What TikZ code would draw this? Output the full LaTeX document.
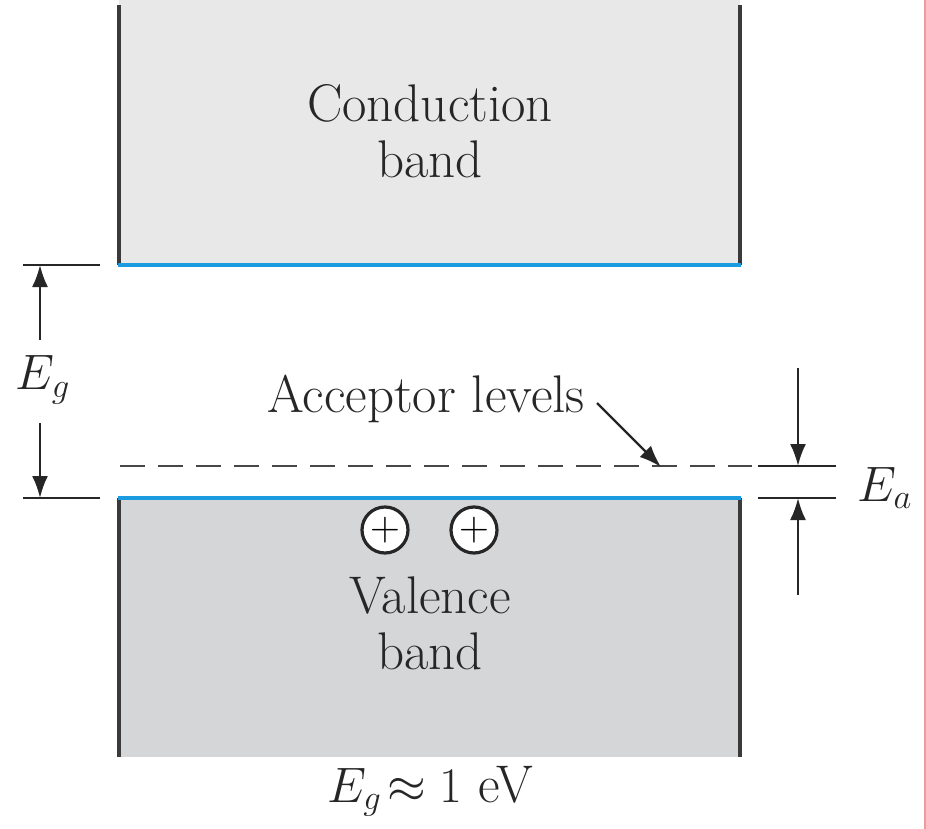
\documentclass[tikz,border=0pt]{standalone}
\usetikzlibrary{arrows.meta}
\definecolor{cbfill}{HTML}{E8E8E8}
\definecolor{vbfill}{HTML}{D5D6D8}
\definecolor{edge}{HTML}{3A3A3A}
\definecolor{levelblue}{HTML}{1B9BE0}
\definecolor{ink}{HTML}{262626}
\definecolor{redrule}{HTML}{F09A9A}
\begin{document}
\begin{tikzpicture}[x=0.5pt,y=-0.5pt,
  lbl/.style={font=\fontsize{26.5}{28}\selectfont, text=ink, align=center, inner sep=0pt},
  tick/.style={draw=ink, line width=1.2pt},
  dimarrow/.style={draw=ink, line width=1.2pt, -{Latex[length=11pt,width=8pt]}},
  side/.style={draw=edge, line width=2pt},
  level/.style={draw=levelblue, line width=2pt},
  hole/.style={circle, draw=ink, fill=white, line width=1.6pt, minimum size=23pt, inner sep=0pt, font=\fontsize{21}{21}\selectfont},
]
\useasboundingbox (0,0) rectangle (926,829);
\fill[white] (0,0) rectangle (926,829);
% conduction band
\fill[cbfill] (119,0) rectangle (740,265);
\draw[side] (119,5) -- (119,265);
\draw[side] (740,5) -- (740,265);
\draw[level] (118,265) -- (741,265);
% valence band
\fill[vbfill] (119,498) rectangle (740,757);
\draw[side] (119,498) -- (119,757);
\draw[side] (740,498) -- (740,757);
\draw[level] (118,498) -- (741,498);
% acceptor level
\draw[draw=ink!85, line width=1.3pt, dash pattern=on 12.5pt off 6.5pt] (120,466) -- (752,466);
% labels
\node[lbl] (cb) at (430,131) {Conduction\\band};
\node[lbl] (vb) at (430,623) {Valence\\band};
\node[lbl, anchor=base] (egv) at (430,802) {$E_g\!\approx 1$ eV};
\node[lbl] (acc) at (426,399) {Acceptor levels};
% holes
\node[hole] (h1) at (385,530) {$+$};
\node[hole] (h2) at (474,530) {$+$};
% acceptor pointer
\coordinate (accs) at (597,403);
\coordinate (acct) at (661,467);
\draw[draw=ink, line width=1.2pt, -{Latex[length=11pt,width=8pt]}] (accs) -- (acct);
% Eg dimension
\coordinate (egt1) at (23,265); \coordinate (egt2) at (100,265);
\coordinate (egb1) at (23,498); \coordinate (egb2) at (100,498);
\draw[tick] (egt1) -- (egt2);
\draw[tick] (egb1) -- (egb2);
\coordinate (eguA) at (40,340); \coordinate (eguB) at (40,265);
\coordinate (egdA) at (40,423); \coordinate (egdB) at (40,498);
\draw[dimarrow] (eguA) -- (eguB);
\draw[dimarrow] (egdA) -- (egdB);
\node[lbl] (eg) at (43,380) {$E_g$};
% Ea dimension
\coordinate (eat1) at (758,466); \coordinate (eat2) at (836,466);
\coordinate (eab1) at (758,498); \coordinate (eab2) at (836,498);
\draw[tick] (eat1) -- (eat2);
\draw[tick] (eab1) -- (eab2);
\coordinate (eauA) at (798,368); \coordinate (eauB) at (798,466);
\coordinate (eadA) at (798,595); \coordinate (eadB) at (798,498);
\draw[dimarrow] (eauA) -- (eauB);
\draw[dimarrow] (eadA) -- (eadB);
\node[lbl] (ea) at (885,488) {$E_a$};
% right edge rule
\draw[redrule, line width=1pt] (924.5,0) -- (924.5,829);
\end{tikzpicture}
\end{document}
